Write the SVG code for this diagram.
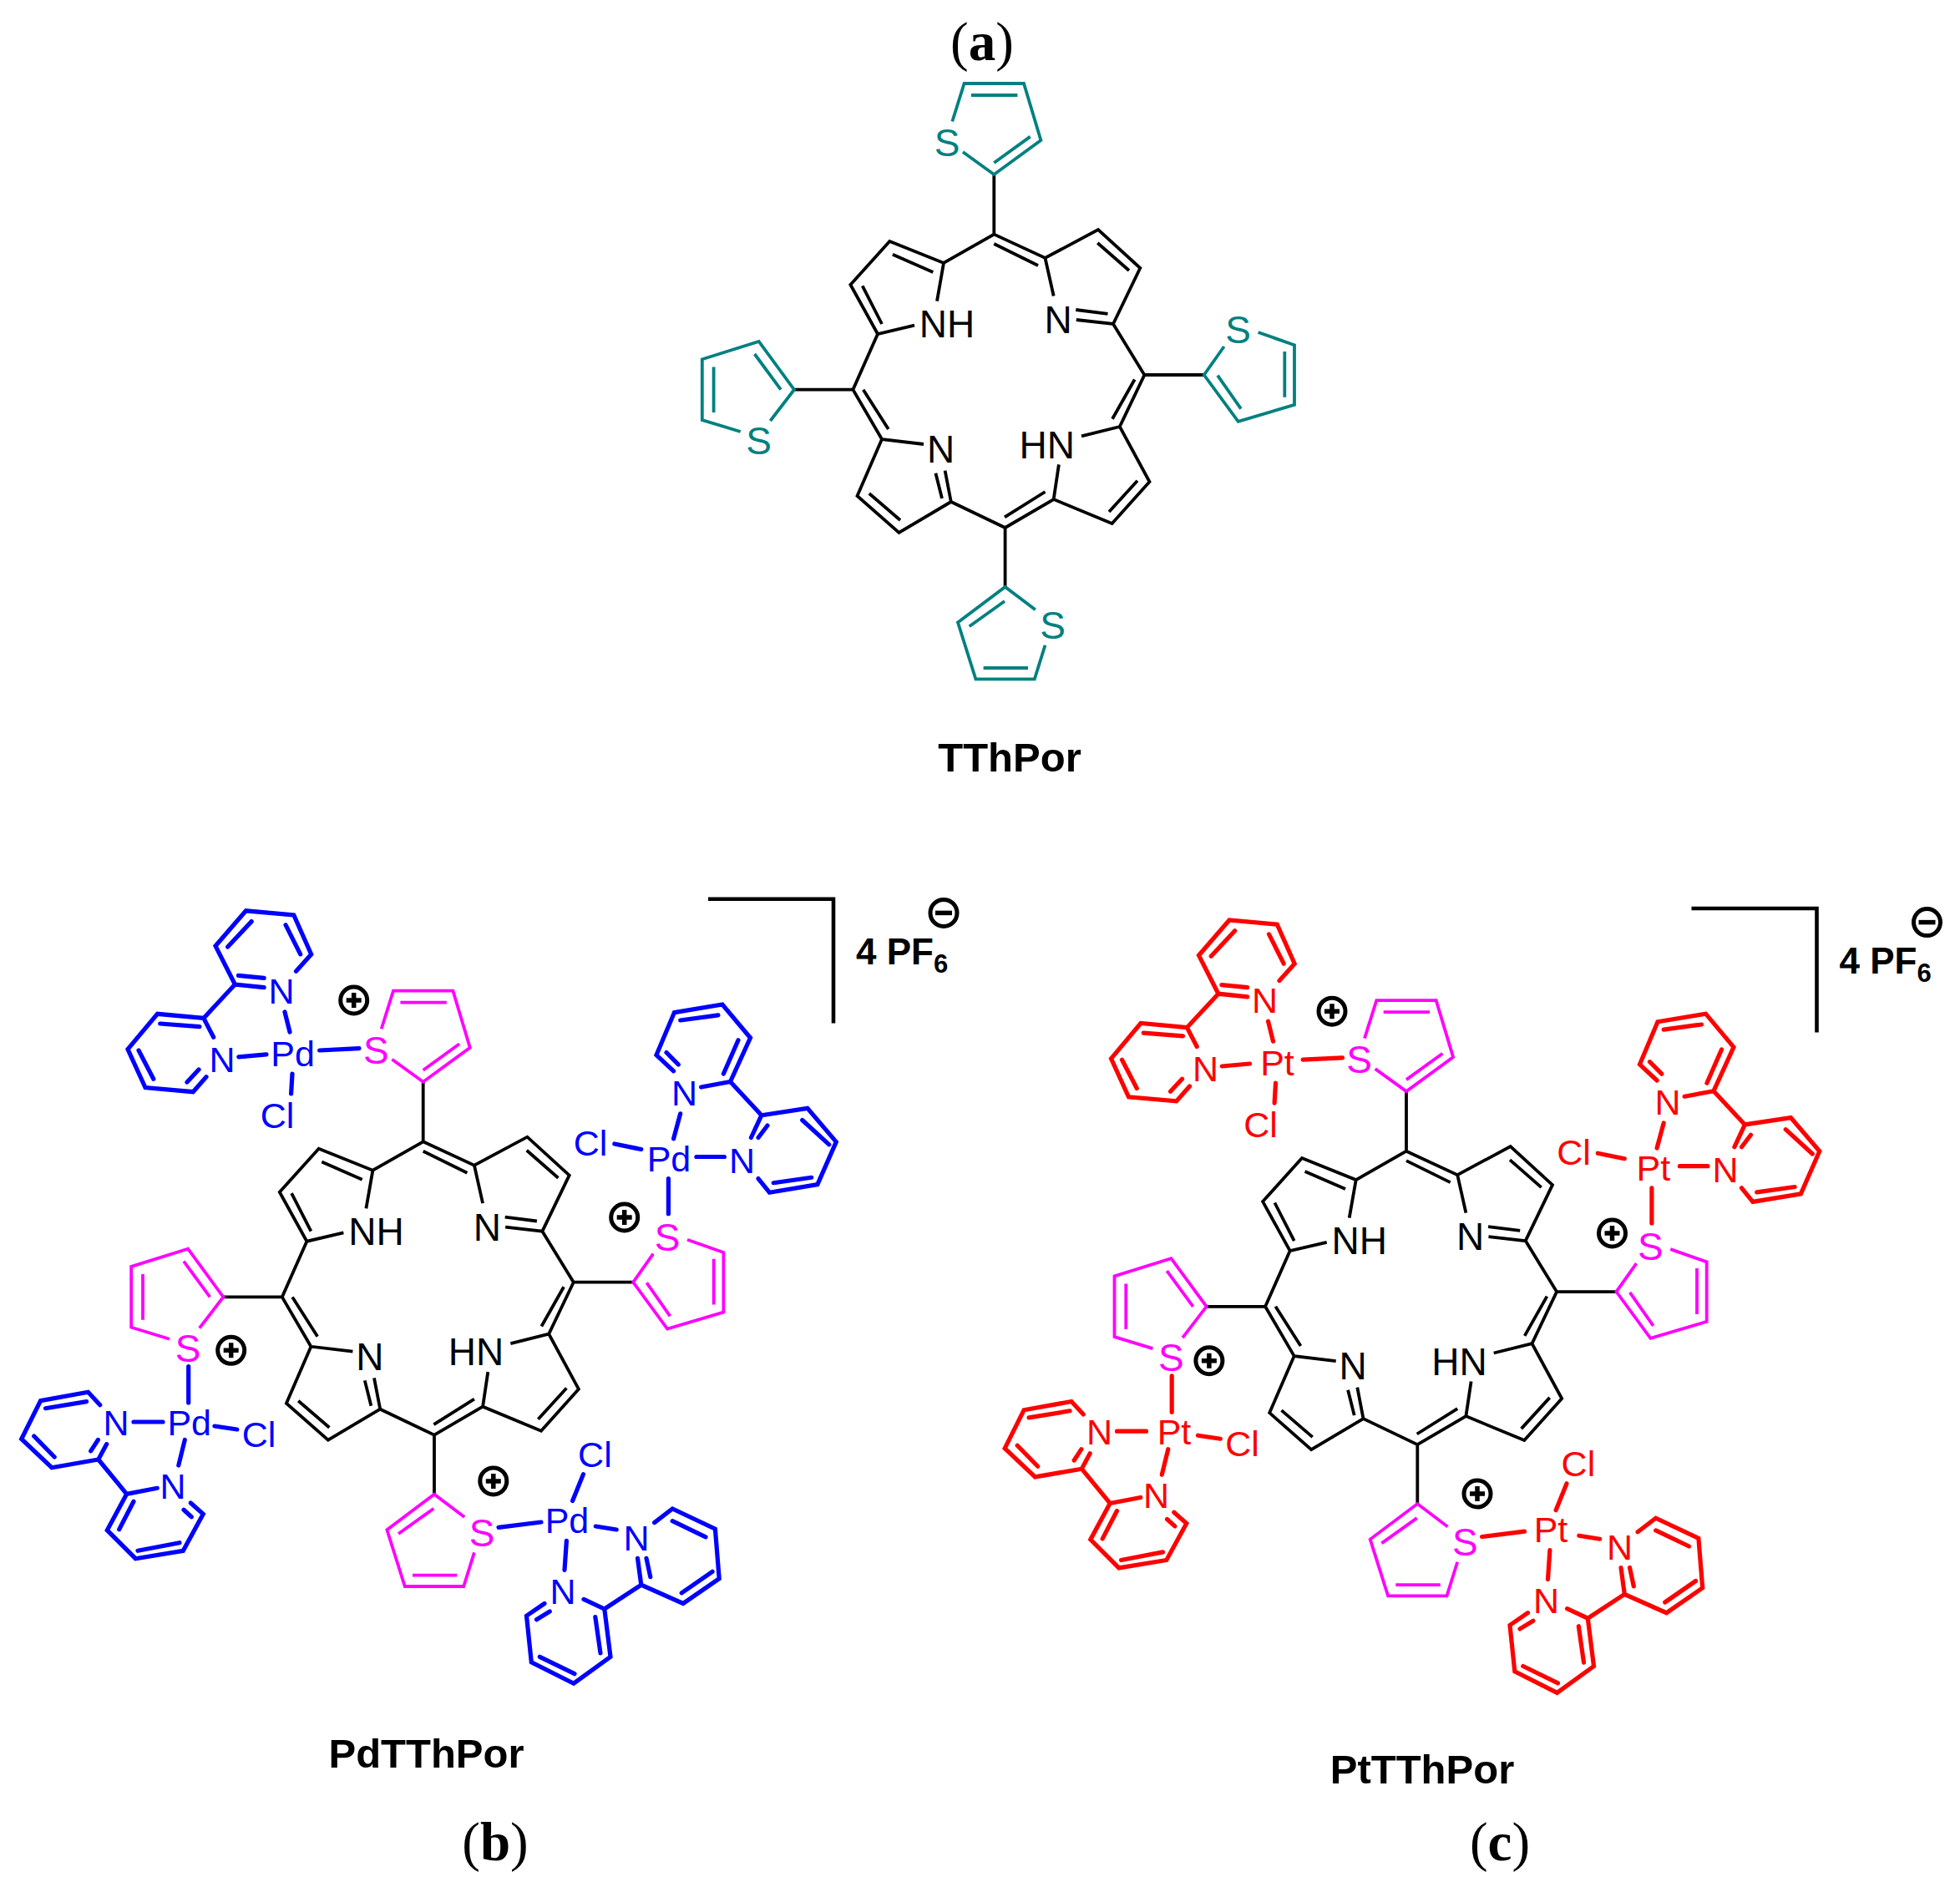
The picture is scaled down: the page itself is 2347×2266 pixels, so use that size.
<svg xmlns="http://www.w3.org/2000/svg" width="2347" height="2266" viewBox="0 0 2347 2266">
<style>
path{fill:none;stroke-linecap:butt;stroke-linejoin:miter}
.k{stroke:#000;stroke-width:3.8}
.t{stroke:#008080;stroke-width:3.8}
.m{stroke:#f0f;stroke-width:3.8}
.b{stroke:#00f;stroke-width:5.2;stroke-linecap:round}
.r{stroke:#f00;stroke-width:5.2;stroke-linecap:round}
.br{stroke:#000;stroke-width:4.6}
.c{fill:none;stroke:#000;stroke-width:5}
.pm{stroke:#000;stroke-width:5.5}
text{font-family:"Liberation Sans",Arial,sans-serif;text-anchor:middle}
.l{font-size:46px;fill:#000}
.lt{font-size:46px;fill:#008080}
.lm{font-size:46px;fill:#f0f}
.lb{font-size:43px;fill:#00f}
.lr{font-size:43px;fill:#f00}
.n{font-size:49px;font-weight:bold;fill:#000}
.p{font-size:44px;font-weight:bold;fill:#000;text-anchor:start}
.s{font-size:31px;font-weight:bold;fill:#000;text-anchor:start}
.h{font-family:"Liberation Serif","Times New Roman",serif;font-size:65px;fill:#000}
.h tspan{font-weight:bold}
</style>
<defs>
<g id="plus"><circle class="c" r="16"/><path class="pm" d="M-9,0H9M0,-9V9"/></g>
<g id="minus"><circle class="c" r="16"/><path class="pm" d="M-10,0H10"/></g>
</defs>
<rect width="2347" height="2266" fill="#fff"/>

<text id="label-a" class="h" x="1176" y="72">(<tspan>a</tspan>)</text>
<text id="name-a" class="n" x="1209" y="924">TThPor</text>
<text id="name-b" class="n" x="510.5" y="2117">PdTThPor</text>
<text id="name-c" class="n" x="1703" y="2136">PtTThPor</text>
<text id="label-b" class="h" x="593" y="2228">(<tspan>b</tspan>)</text>
<text id="label-c" class="h" x="1796" y="2228">(<tspan>c</tspan>)</text>

<g id="porphyrin-a">
<path class="k" d="M1190.3,209V280.6L1130,315L1065.3,289L1018.4,341L1051,400L1095,389.7M1130,315L1122,360.6M1068.9,304.8L1117.3,326M1032.7,342.4L1056,388M1190.3,280.6L1251.5,309L1315,275L1365.3,321L1333,388L1288.8,383M1190.3,292L1243,318M1314.3,291L1352,324M1326.5,375.8L1288.3,371M1251.5,309L1261.7,354.5M1333,388L1370.4,449L1340.8,511L1376.5,577L1331.6,627L1261.7,598L1203.6,632L1138.8,601L1076.5,638L1026.5,594L1056,526L1106,532M1370.4,449H1441.8M1358.7,454.5L1332,501.8M1340.8,511L1295,522.4M1362,575.8L1328,613M1261.7,598L1267.9,556.4M1251.5,589L1203,619.4M1203.6,632V703M1078,623L1040.8,591M1138.8,601L1131.6,563.6M1128,597L1120.4,566.7M1051,400L1021.4,466.7L1056,526M1033.7,466.7L1063.8,514M1021.4,466.7H951"/>
<text class="l" x="1134" y="404">NH</text><text class="l" x="1267" y="399">N</text><text class="l" x="1253.7" y="548.5">HN</text><text class="l" x="1126.5" y="554">N</text>
<path class="t" d="M1140.3,145.5L1154.6,100H1226L1246.4,168L1190.3,209L1153,182M1163,114H1218.4M1190.3,195L1233.7,163.6"/>
<path class="t" d="M1465.8,415L1441.8,449L1482.7,504.8L1550,484.8V413.3L1506.6,398M1458,449.7L1486,489.7M1538.3,421V475.8"/>
<path class="t" d="M1239.8,730.3L1203.6,703L1147,745.5L1168.4,813.3H1238.8L1251.5,772.7M1160.7,750.3L1203,720M1177.6,800H1231"/>
<path class="t" d="M922.4,504L951,466.7L908.7,409L840.8,430.3V503L886.7,517M935,466.7L903.6,424M854.6,439.4V494"/>
<text class="lt" x="1134" y="187">S</text><text class="lt" x="1482.7" y="411">S</text><text class="lt" x="1260.7" y="765">S</text><text class="lt" x="908.7" y="544">S</text>
</g>

<g id="porphyrin-b" transform="translate(-683.6,1086.7)">
<path class="k" d="M1190.3,209V280.6L1130,315L1065.3,289L1018.4,341L1051,400L1095,389.7M1130,315L1122,360.6M1068.9,304.8L1117.3,326M1032.7,342.4L1056,388M1190.3,280.6L1251.5,309L1315,275L1365.3,321L1333,388L1288.8,383M1190.3,292L1243,318M1314.3,291L1352,324M1326.5,375.8L1288.3,371M1251.5,309L1261.7,354.5M1333,388L1370.4,449L1340.8,511L1376.5,577L1331.6,627L1261.7,598L1203.6,632L1138.8,601L1076.5,638L1026.5,594L1056,526L1106,532M1370.4,449H1441.8M1358.7,454.5L1332,501.8M1340.8,511L1295,522.4M1362,575.8L1328,613M1261.7,598L1267.9,556.4M1251.5,589L1203,619.4M1203.6,632V703M1078,623L1040.8,591M1138.8,601L1131.6,563.6M1128,597L1120.4,566.7M1051,400L1021.4,466.7L1056,526M1033.7,466.7L1063.8,514M1021.4,466.7H951"/>
<text class="l" x="1134" y="404">NH</text><text class="l" x="1267" y="399">N</text><text class="l" x="1253.7" y="548.5">HN</text><text class="l" x="1126.5" y="554">N</text>
<path class="m" d="M1140.3,145.5L1154.6,100H1226L1246.4,168L1190.3,209L1153,182M1163,114H1218.4M1190.3,195L1233.7,163.6"/>
<path class="m" d="M1465.8,415L1441.8,449L1482.7,504.8L1550,484.8V413.3L1506.6,398M1458,449.7L1486,489.7M1538.3,421V475.8"/>
<path class="m" d="M1239.8,730.3L1203.6,703L1147,745.5L1168.4,813.3H1238.8L1251.5,772.7M1160.7,750.3L1203,720M1177.6,800H1231"/>
<path class="m" d="M922.4,504L951,466.7L908.7,409L840.8,430.3V503L886.7,517M935,466.7L903.6,424M854.6,439.4V494"/>
<text class="lm" x="1134" y="187">S</text><text class="lm" x="1482.7" y="411">S</text><text class="lm" x="1260.7" y="765">S</text><text class="lm" x="908.7" y="544">S</text>
</g>

<g id="porphyrin-c" transform="translate(493.7,1098.1)">
<path class="k" d="M1190.3,209V280.6L1130,315L1065.3,289L1018.4,341L1051,400L1095,389.7M1130,315L1122,360.6M1068.9,304.8L1117.3,326M1032.7,342.4L1056,388M1190.3,280.6L1251.5,309L1315,275L1365.3,321L1333,388L1288.8,383M1190.3,292L1243,318M1314.3,291L1352,324M1326.5,375.8L1288.3,371M1251.5,309L1261.7,354.5M1333,388L1370.4,449L1340.8,511L1376.5,577L1331.6,627L1261.7,598L1203.6,632L1138.8,601L1076.5,638L1026.5,594L1056,526L1106,532M1370.4,449H1441.8M1358.7,454.5L1332,501.8M1340.8,511L1295,522.4M1362,575.8L1328,613M1261.7,598L1267.9,556.4M1251.5,589L1203,619.4M1203.6,632V703M1078,623L1040.8,591M1138.8,601L1131.6,563.6M1128,597L1120.4,566.7M1051,400L1021.4,466.7L1056,526M1033.7,466.7L1063.8,514M1021.4,466.7H951"/>
<text class="l" x="1134" y="404">NH</text><text class="l" x="1267" y="399">N</text><text class="l" x="1253.7" y="548.5">HN</text><text class="l" x="1126.5" y="554">N</text>
<path class="m" d="M1140.3,145.5L1154.6,100H1226L1246.4,168L1190.3,209L1153,182M1163,114H1218.4M1190.3,195L1233.7,163.6"/>
<path class="m" d="M1465.8,415L1441.8,449L1482.7,504.8L1550,484.8V413.3L1506.6,398M1458,449.7L1486,489.7M1538.3,421V475.8"/>
<path class="m" d="M1239.8,730.3L1203.6,703L1147,745.5L1168.4,813.3H1238.8L1251.5,772.7M1160.7,750.3L1203,720M1177.6,800H1231"/>
<path class="m" d="M922.4,504L951,466.7L908.7,409L840.8,430.3V503L886.7,517M935,466.7L903.6,424M854.6,439.4V494"/>
<text class="lm" x="1134" y="187">S</text><text class="lm" x="1482.7" y="411">S</text><text class="lm" x="1260.7" y="765">S</text><text class="lm" x="908.7" y="544">S</text>
</g>

<g id="complexes-b">
<g id="pd-1">
<path class="b" d="M354.5,1163.3L372.7,1143L351.8,1096L294.5,1090.8L258,1133L281.4,1179L316.2,1182.7M285.4,1168.4L316.2,1171.4M272.7,1134L301.2,1103.6M342,1107.7L359.7,1142.9M281.4,1179L243.9,1219.4L255.7,1242.3M243.9,1219.4L188.5,1214.3L153,1256.6L174,1302.6L231.2,1307.7L247,1289.8M191.7,1226L239,1229.6M166,1258L183.8,1292.3M224,1296L238,1281M341,1212L347,1236M285.8,1265.8L319,1262.8M382.6,1258L430,1255.6M350,1286L348.6,1310"/>
<text class="lb" x="350.6" y="1277">Pd</text><text class="lb" x="337" y="1201.5">N</text><text class="lb" x="266" y="1283.7">N</text><text class="lb" x="332" y="1351">Cl</text>
<use href="#plus" x="423.7" y="1198"/>
</g>
<g id="pd-2">
<path class="b" d="M119.8,1682.7L105.5,1667.3L48.6,1677.6L25.7,1723.5L62,1757.7L117.8,1748L127.7,1729.6M103.6,1678.6L54.5,1686.7M40.7,1720L65.2,1745M108.7,1737.8L117.4,1724.5M117.8,1748L151.7,1789.3L188.3,1782.3M151.7,1789.3L128.3,1832.7L162.3,1866.7L219.3,1857.3L243.3,1813.3L228.3,1800M142.7,1831.7L160,1798.3M165,1857.3L215,1847.7M220,1808.3L229.3,1816.7M225.7,1636.7V1680M160,1703H195M257,1708L283.8,1712M221.3,1724.5L213.8,1755"/>
<text class="lb" x="226.7" y="1719">Pd</text><text class="lb" x="139" y="1719">N</text><text class="lb" x="310" y="1732.6">Cl</text><text class="lb" x="207" y="1795">N</text>
<use href="#plus" x="276.7" y="1617.3"/>
</g>
<g id="pd-3">
<path class="b" d="M839.6,1302L874.5,1295.5L898.5,1243L865,1203L807.5,1212.6L786,1263.6L806.6,1282.8M798,1260.5L812.3,1275M814.7,1222L860,1215.8M884,1245.8L866.4,1286M874.5,1295.5L911.9,1335.7L966.9,1327.4L1001.3,1367.6L978.9,1418.6L921.4,1428.2L908,1411.6M911.9,1335.7L899.4,1362.5M960.7,1341.5L992.8,1370.8M926.2,1416.7L971.7,1410.3M919,1348L908,1362.5M814.7,1333.8L806.6,1363.8M833.9,1385.5H867.4M735.8,1370L767.8,1376.5M800.4,1411.6V1453.7"/>
<text class="lb" x="801" y="1402.7">Pd</text><text class="lb" x="819.5" y="1324">N</text><text class="lb" x="888.6" y="1405">N</text><text class="lb" x="707" y="1383.5">Cl</text>
<use href="#plus" x="747.7" y="1458"/>
</g>
<g id="pd-4">
<path class="b" d="M783.6,1823.6L805.2,1807L856.4,1831.2L861.2,1890.6L818,1920.5L767.8,1898.2L763.5,1866.3M778.8,1888.7L774,1866.3M805.2,1821.7L845,1840.8M853,1882.3L816.2,1907.8M767.8,1898.2L723.8,1927L699,1915.4M723.8,1927L731,1984.3L687,2016.2L636.3,1990.7L630.5,1935.2L652,1920.5M712.8,1936.5L719,1980M688,2004.7L646.3,1984.3M642.5,1939.7L658.3,1930M597,1829.3L648,1823M685.6,1797.5L698.5,1765.6M713.3,1828L738.2,1832M678.4,1845.3L676,1880.4"/>
<text class="lb" x="679" y="1835.7">Pd</text><text class="lb" x="712.4" y="1756.6">Cl</text><text class="lb" x="762" y="1856.8">N</text><text class="lb" x="674" y="1920.5">N</text>
<use href="#plus" x="590.8" y="1773.9"/>
</g>
<g id="counterion-b">
<path class="br" d="M848,1076.8H998V1225.4"/>
<text class="p" x="1025" y="1155">4 PF</text><text class="s" x="1118" y="1165">6</text>
<use href="#minus" x="1130" y="1093.4"/>
</g>
</g>

<g id="complexes-c" transform="translate(1177.5,11.2)">
<g id="pt-1">
<path class="r" d="M354.5,1163.3L372.7,1143L351.8,1096L294.5,1090.8L258,1133L281.4,1179L316.2,1182.7M285.4,1168.4L316.2,1171.4M272.7,1134L301.2,1103.6M342,1107.7L359.7,1142.9M281.4,1179L243.9,1219.4L255.7,1242.3M243.9,1219.4L188.5,1214.3L153,1256.6L174,1302.6L231.2,1307.7L247,1289.8M191.7,1226L239,1229.6M166,1258L183.8,1292.3M224,1296L238,1281M341,1212L347,1236M285.8,1265.8L319,1262.8M382.6,1258L430,1255.6M350,1286L348.6,1310"/>
<text class="lr" x="352" y="1277">Pt</text><text class="lr" x="337" y="1201.5">N</text><text class="lr" x="266" y="1283.7">N</text><text class="lr" x="332" y="1351">Cl</text>
<use href="#plus" x="417.5" y="1200"/>
</g>
<g id="pt-2">
<path class="r" d="M119.8,1682.7L105.5,1667.3L48.6,1677.6L25.7,1723.5L62,1757.7L117.8,1748L127.7,1729.6M103.6,1678.6L54.5,1686.7M40.7,1720L65.2,1745M108.7,1737.8L117.4,1724.5M117.8,1748L151.7,1789.3L188.3,1782.3M151.7,1789.3L128.3,1832.7L162.3,1866.7L219.3,1857.3L243.3,1813.3L228.3,1800M142.7,1831.7L160,1798.3M165,1857.3L215,1847.7M220,1808.3L229.3,1816.7M225.7,1636.7V1680M160,1703H195M257,1708L283.8,1712M221.3,1724.5L213.8,1755"/>
<text class="lr" x="228.5" y="1719">Pt</text><text class="lr" x="139" y="1719">N</text><text class="lr" x="310" y="1732.6">Cl</text><text class="lr" x="207" y="1795">N</text>
<use href="#plus" x="270.4" y="1618.5"/>
</g>
<g id="pt-3">
<path class="r" d="M839.6,1302L874.5,1295.5L898.5,1243L865,1203L807.5,1212.6L786,1263.6L806.6,1282.8M798,1260.5L812.3,1275M814.7,1222L860,1215.8M884,1245.8L866.4,1286M874.5,1295.5L911.9,1335.7L966.9,1327.4L1001.3,1367.6L978.9,1418.6L921.4,1428.2L908,1411.6M911.9,1335.7L899.4,1362.5M960.7,1341.5L992.8,1370.8M926.2,1416.7L971.7,1410.3M919,1348L908,1362.5M814.7,1333.8L806.6,1363.8M833.9,1385.5H867.4M735.8,1370L767.8,1376.5M800.4,1411.6V1453.7"/>
<text class="lr" x="802.3" y="1402.7">Pt</text><text class="lr" x="819.5" y="1324">N</text><text class="lr" x="888.6" y="1405">N</text><text class="lr" x="707" y="1383.5">Cl</text>
<use href="#plus" x="753" y="1465.8"/>
</g>
<g id="pt-4">
<path class="r" d="M783.6,1823.6L805.2,1807L856.4,1831.2L861.2,1890.6L818,1920.5L767.8,1898.2L763.5,1866.3M778.8,1888.7L774,1866.3M805.2,1821.7L845,1840.8M853,1882.3L816.2,1907.8M767.8,1898.2L723.8,1927L699,1915.4M723.8,1927L731,1984.3L687,2016.2L636.3,1990.7L630.5,1935.2L652,1920.5M712.8,1936.5L719,1980M688,2004.7L646.3,1984.3M642.5,1939.7L658.3,1930M597,1829.3L648,1823M685.6,1797.5L698.5,1765.6M713.3,1828L738.2,1832M678.4,1845.3L676,1880.4"/>
<text class="lr" x="679.5" y="1835.7">Pt</text><text class="lr" x="712.4" y="1756.6">Cl</text><text class="lr" x="762" y="1856.8">N</text><text class="lr" x="674" y="1920.5">N</text>
<use href="#plus" x="591.5" y="1777.8"/>
</g>
<g id="counterion-c">
<path class="br" d="M848,1076.8H998V1225.4"/>
<text class="p" x="1025" y="1155">4 PF</text><text class="s" x="1118" y="1165">6</text>
<use href="#minus" x="1130" y="1093.4"/>
</g>
</g>
</svg>
